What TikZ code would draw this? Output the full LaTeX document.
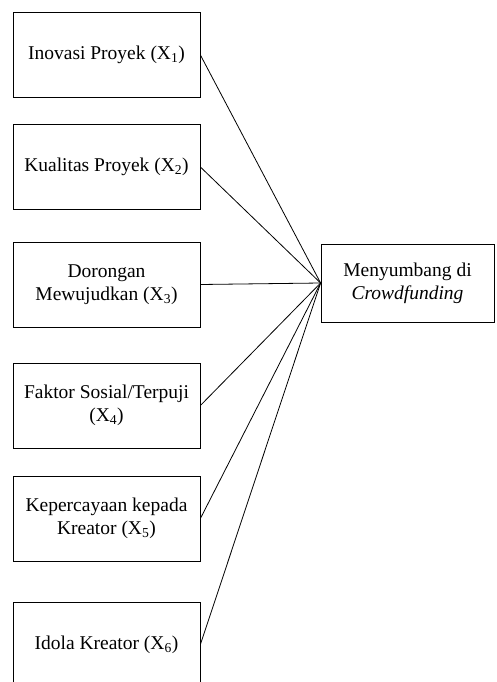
\documentclass[tikz,border=0pt]{standalone}
\usepackage{fontspec}
\setmainfont{Liberation Serif}

\begin{document}
\begin{tikzpicture}[x=1pt,y=-1pt,line width=.8pt,
  font=\fontsize{19.5}{23}\selectfont,
  var/.style={draw,align=center,minimum width=187pt,minimum height=85pt,inner sep=2pt},
  dep/.style={draw,align=center,minimum width=173pt,minimum height=78pt,inner sep=2pt}]
  \useasboundingbox (0,0) rectangle (496,682);
  \begin{scope}
    \clip (0,0) rectangle (496,682);
    \node[var] (x1) at (106.5,55)  {Inovasi Proyek (X\textsubscript{1})};
    \node[var] (x2) at (106.5,167) {Kualitas Proyek (X\textsubscript{2})};
    \node[var] (x3) at (106.5,284.5) {Dorongan\\Mewujudkan (X\textsubscript{3})};
    \node[var] (x4) at (106.5,405.5) {Faktor Sosial/Terpuji\\(X\textsubscript{4})};
    \node[var] (x5) at (106.5,518.5) {Kepercayaan kepada\\Kreator (X\textsubscript{5})};
    \node[var] (x6) at (106.5,644.5) {Idola Kreator (X\textsubscript{6})};
  \end{scope}
  \node[dep] (y) at (407.5,283) {Menyumbang di\\\textit{Crowdfunding}};
  \foreach \i in {1,...,6}
    \draw (x\i.east) -- (y.west);
\end{tikzpicture}
\end{document}
